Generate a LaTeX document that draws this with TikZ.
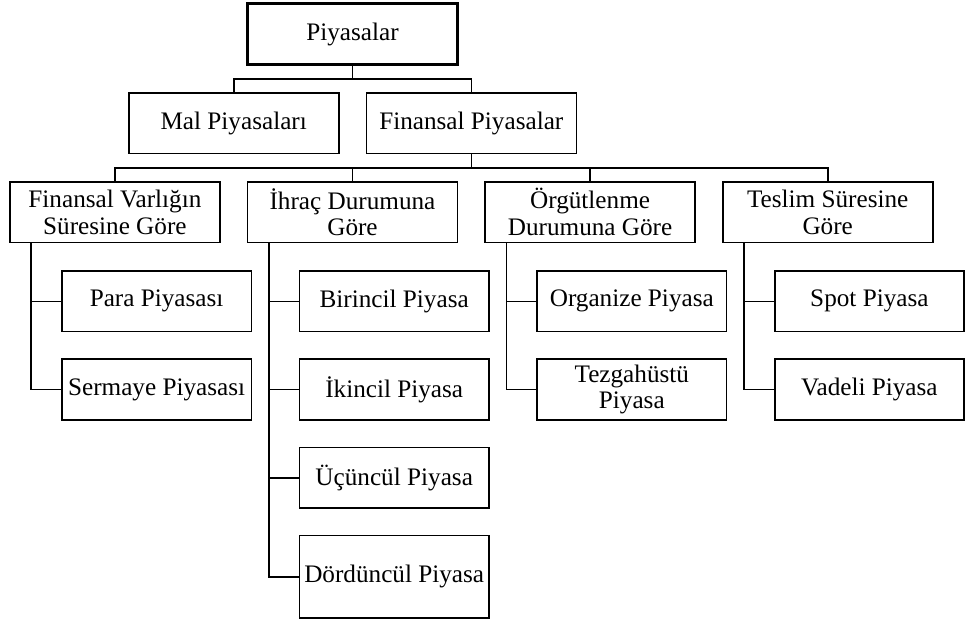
\documentclass[tikz,border=0pt]{standalone}
\usepackage{fontspec}
\setmainfont{Liberation Serif}
\usepackage{tikz}
\usetikzlibrary{positioning}
\tikzset{
  rootb/.style = {rectangle, draw=black, line width=1.5pt, align=center, inner sep=1pt,
                  minimum width=105pt, minimum height=30.5pt,
                  font=\fontsize{12.6}{13.3}\selectfont},
  grp/.style   = {rectangle, draw=black, line width=0.8pt, align=center, inner sep=1pt,
                  minimum width=105pt, minimum height=30.3pt,
                  font=\fontsize{12.6}{13.3}\selectfont},
  leaf/.style  = {grp, minimum width=94.7pt},
  ln/.style    = {draw=black, line width=0.8pt},
}

\begin{document}
\begin{tikzpicture}
  \useasboundingbox (0,0) rectangle (483pt,-311.5pt);

  \node[rootb] (root) at (176.25pt,-17pt) {Piyasalar};
  \node[grp, below left=13pt and 6.5pt of root.south] (mal) {Mal Piyasaları};
  \node[grp, below right=13pt and 6.5pt of root.south] (fin) {Finansal Piyasalar};

  \node[grp, below=57.5pt of root] (ih) {İhraç Durumuna\\Göre};
  \node[grp, left=13pt of ih] (fv) {Finansal Varlığın\\Süresine Göre};
  \node[grp, right=13pt of ih] (org) {Örgütlenme\\Durumuna Göre};
  \node[grp, right=13pt of org] (tes) {Teslim Süresine\\Göre};

  % alt kirilimlar
  \node[leaf, below right=13.5pt and 26pt of fv.south west] (para) {Para Piyasası};
  \node[leaf, below=13pt of para] (serm) {Sermaye Piyasası};
  \node[leaf, below right=13.5pt and 26pt of ih.south west] (bir) {Birincil Piyasa};
  \node[leaf, below=13pt of bir] (iki) {İkincil Piyasa};
  \node[leaf, below=13pt of iki] (ucu) {Üçüncül Piyasa};
  \node[leaf, below=13pt of ucu, minimum height=41.3pt] (dor) {Dördüncül Piyasa};
  \node[leaf, below right=13.5pt and 26pt of org.south west] (orgz) {Organize Piyasa};
  \node[leaf, below=13pt of orgz] (tezg) {Tezgahüstü\\Piyasa};
  \node[leaf, below right=13.5pt and 26pt of tes.south west] (spot) {Spot Piyasa};
  \node[leaf, below=13pt of spot] (vade) {Vadeli Piyasa};

  \draw[ln] (root.south) -- ++(0,-6.5pt) coordinate (r1);
  \draw[ln] (mal.north) |- (r1) -| (fin.north);
  \draw[ln] (fin.south) -- ++(0,-6.75pt) coordinate (f1);
  \draw[ln] (fv.north) |- (f1) -| (tes.north);
  \draw[ln] (ih.north) -- (ih.north |- f1);
  \draw[ln] (org.north) -- (org.north |- f1);

  \draw[ln] ([xshift=11pt]fv.south west) coordinate (fv0) |- (serm.west);
  \draw[ln] (para.west) -- (para.west -| fv0);
  \draw[ln] ([xshift=11pt]ih.south west) coordinate (ih0) |- (dor.west);
  \draw[ln] (bir.west) -- (bir.west -| ih0);
  \draw[ln] (iki.west) -- (iki.west -| ih0);
  \draw[ln] (ucu.west) -- (ucu.west -| ih0);
  \draw[ln] ([xshift=11pt]org.south west) coordinate (org0) |- (tezg.west);
  \draw[ln] (orgz.west) -- (orgz.west -| org0);
  \draw[ln] ([xshift=11pt]tes.south west) coordinate (tes0) |- (vade.west);
  \draw[ln] (spot.west) -- (spot.west -| tes0);
\end{tikzpicture}
\end{document}
